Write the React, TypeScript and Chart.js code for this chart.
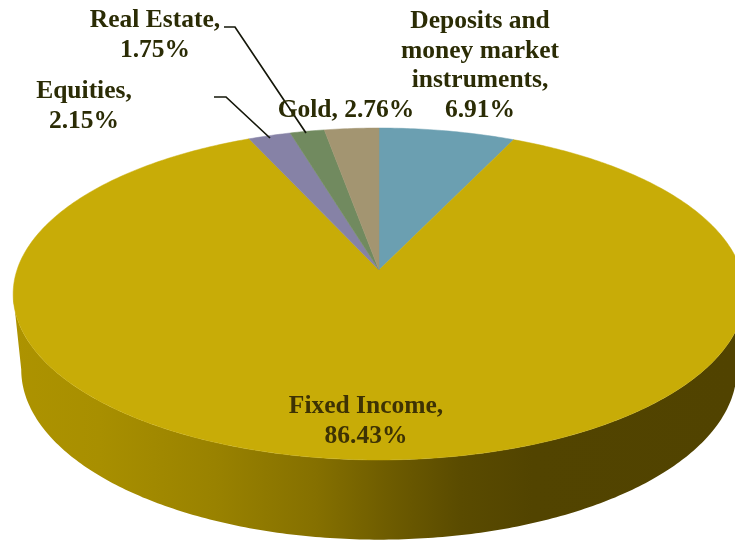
import React, { useEffect, useRef } from "react";
import { Chart, registerables } from "chart.js";

Chart.register(...registerables);

const categories = ["Deposits and money market instruments", "Fixed Income", "Equities", "Real Estate", "Gold"];
const shares = [6.91, 86.43, 2.15, 1.75, 2.76];
const sliceColors = ["#6b9fb1", "#c8ac07", "#8682a6", "#718a5f", "#a39571"];

const labelLines = [
  ["Deposits and", "money market", "instruments,", "6.91%"],
  ["Fixed Income,", "86.43%"],
  ["Equities,", "2.15%"],
  ["Real Estate,", "1.75%"],
  ["Gold, 2.76%"],
];
// centre x and first baseline y of each label
const labelAnchors = [
  [480, 28],
  [366, 413],
  [84, 98],
  [155, 27],
  [346, 117],
];
const labelInk = ["#2b2c05", "#3d3204", "#2b2c05", "#2b2c05", "#2b2c05"];

const leaderLines = [
  [[224, 27], [235, 27], [306, 133]],
  [[214, 97], [226, 97], [270, 138]],
];

const sideStops: [number, string][] = [
  [0, "#ad9300"],
  [0.12, "#a88f00"],
  [0.28, "#998200"],
  [0.42, "#857000"],
  [0.52, "#6e5c00"],
  [0.62, "#5a4b00"],
  [0.72, "#524400"],
  [1, "#514300"],
];

const TILT = 0.1446;
const APEX_X = 379;
const APEX_Y = 270;

// Project a pie angle on the tilted disc; depth 0 is the top face, 1 the bottom ring.
function project(theta: number, depth: number): [number, number] {
  const u = Math.cos(theta);
  const v = -Math.sin(theta);
  const w = 1 + TILT * v;
  const a = depth ? 354 : 362;
  const b = depth ? 166.5 : 162.5;
  const y0 = depth ? 345 : APEX_Y;
  return [APEX_X + (a * u) / w, y0 - (b * v) / w];
}

const tiltedPie = {
  id: "tiltedPie",
  beforeDatasetsDraw(chart: any) {
    const ctx: CanvasRenderingContext2D = chart.ctx;
    const arcs = chart.getDatasetMeta(0).data;

    // Side wall
    const vEdge = Math.asin(TILT);
    const from = vEdge;
    const to = Math.PI - vEdge;
    const grad = ctx.createLinearGradient(13, 0, 735, 0);
    sideStops.forEach(([o, c]) => grad.addColorStop(o, c));
    ctx.beginPath();
    const n = 240;
    for (let i = 0; i <= n; i++) {
      const [x, y] = project(from + ((to - from) * i) / n, 0);
      i ? ctx.lineTo(x, y) : ctx.moveTo(x, y);
    }
    for (let i = n; i >= 0; i--) {
      const [x, y] = project(from + ((to - from) * i) / n, 1);
      ctx.lineTo(x, y);
    }
    ctx.closePath();
    ctx.fillStyle = grad;
    ctx.fill();

    // Top face slices
    arcs.forEach((arc: any) => {
      const steps = Math.max(4, Math.ceil((arc.endAngle - arc.startAngle) * 80));
      ctx.beginPath();
      ctx.moveTo(APEX_X, APEX_Y);
      for (let i = 0; i <= steps; i++) {
        const t = arc.startAngle + ((arc.endAngle - arc.startAngle) * i) / steps;
        const [x, y] = project(t, 0);
        ctx.lineTo(x, y);
      }
      ctx.closePath();
      ctx.fillStyle = arc.options.backgroundColor;
      ctx.strokeStyle = arc.options.backgroundColor;
      ctx.lineWidth = 0.5;
      ctx.fill();
      ctx.stroke();
    });
    return false;
  },
  afterDraw(chart: any) {
    const ctx: CanvasRenderingContext2D = chart.ctx;
    ctx.save();
    ctx.strokeStyle = "#15170a";
    ctx.lineWidth = 1.7;
    leaderLines.forEach((line) => {
      ctx.beginPath();
      line.forEach(([x, y], i) => (i ? ctx.lineTo(x, y) : ctx.moveTo(x, y)));
      ctx.stroke();
    });
    ctx.font = 'bold 25.5px "Liberation Serif"';
    ctx.textAlign = "center";
    ctx.textBaseline = "alphabetic";
    labelLines.forEach((lines, i) => {
      ctx.fillStyle = labelInk[i];
      lines.forEach((line, j) => {
        ctx.fillText(line, labelAnchors[i][0], labelAnchors[i][1] + j * 29.7);
      });
    });
    ctx.restore();
  },
};

export default function App() {
  const ref = useRef<HTMLCanvasElement>(null);
  useEffect(() => {
    const chart = new Chart(ref.current!, {
      type: "pie",
      data: {
        labels: categories,
        datasets: [{ data: shares, backgroundColor: sliceColors, borderWidth: 0 }],
      },
      options: {
        responsive: false,
        animation: false,
        plugins: { legend: { display: false }, tooltip: { enabled: false } },
      },
      plugins: [tiltedPie],
    });
    return () => chart.destroy();
  }, []);
  return (
    <div style={{ position: "absolute", left: 0, top: 0, width: 735, height: 540, background: "#fff" }}>
      <canvas ref={ref} width={735} height={540} style={{ display: "block" }} />
    </div>
  );
}
